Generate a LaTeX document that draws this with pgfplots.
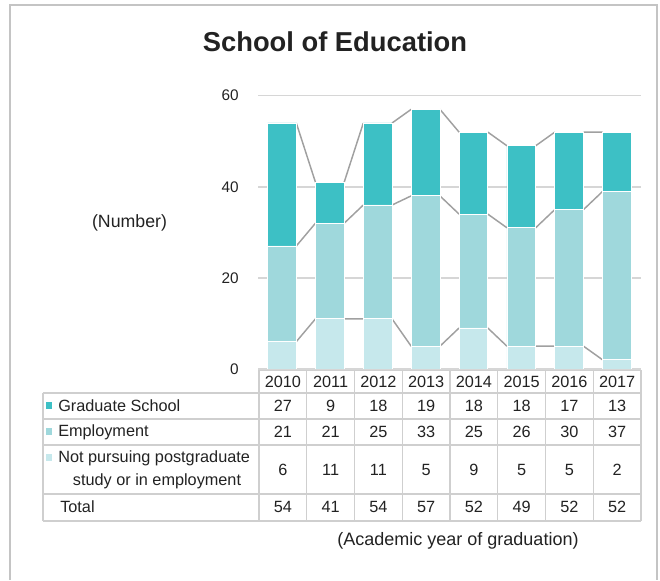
\documentclass[border=0pt]{standalone}
\usepackage{pgfplots}
\pgfplotsset{compat=1.18}
\usepackage{pgfplotstable}
\usepackage{fontspec}
\setmainfont{Liberation Sans}

\definecolor{gradcol}{HTML}{3DC0C5}
\definecolor{empcol}{HTML}{9FD8DC}
\definecolor{notcol}{HTML}{C6E8EC}
\definecolor{gridcol}{HTML}{D6D6D6}
\definecolor{sercol}{HTML}{A0A0A0}
\definecolor{tabcol}{HTML}{CFCFCF}
\definecolor{framecol}{HTML}{C4C4C4}
\definecolor{txt}{HTML}{222222}

% stacked counts per year (0 = 2010 ... 7 = 2017)
\pgfplotstableread{
x n e g
0 6 21 27
1 11 21 9
2 11 25 18
3 5 33 19
4 9 25 18
5 5 26 18
6 5 30 17
7 2 37 13
}\datatable

% series lines: cumulative tops, from the right edge of one bar to the left edge of the next
\pgfplotstableread{
x l1 l2 l3
0.3 6 27 54
0.7 11 32 41
nan nan nan nan
1.3 11 32 41
1.7 11 36 54
nan nan nan nan
2.3 11 36 54
2.7 5 38 57
nan nan nan nan
3.3 5 38 57
3.7 9 34 52
nan nan nan nan
4.3 9 34 52
4.7 5 31 49
nan nan nan nan
5.3 5 31 49
5.7 5 35 52
nan nan nan nan
6.3 5 35 52
6.7 2 39 52
}\linetable

\newcommand\tabfont{\fontsize{12.2}{14}\selectfont}

\begin{document}
\begin{tikzpicture}[px/.style={xshift=-193.5pt, yshift=276.75pt, x=0.75pt, y=-0.75pt}]
\begin{scope}[px]
\useasboundingbox (0,0) rectangle (660,570);
\end{scope}

\pgfplotsset{base/.style={
    at={(0,0)}, anchor=south west,
    scale only axis,
    width=287.25pt, height=205pt,
    xmin=-0.5, xmax=7.5,
    ymin=0, ymax=60,
    axis line style={draw=none},
    xtick=\empty,
    major tick length=0pt,
}}

% grid, y ticks and series lines (behind the bars)
\begin{axis}[base,
    ytick={0,20,40,60},
    ymajorgrids,
    major grid style={color=gridcol, line width=1.1pt},
    /pgf/number format/assume math mode=true,
    yticklabel style={font=\fontsize{11.5}{13}\selectfont, text=txt, xshift=-11pt},
    unbounded coords=jump,
]
\addplot[sercol, line width=1.1pt] table[x=x, y=l1] {\linetable};
\addplot[sercol, line width=1.1pt] table[x=x, y=l2] {\linetable};
\addplot[sercol, line width=1.1pt] table[x=x, y=l3] {\linetable};
\end{axis}

% stacked bars
\begin{axis}[base,
    ytick=\empty,
    ybar stacked,
    bar width=0.6,
]
\addplot[fill=notcol, draw=white, line width=0.6pt] table[x=x, y=n] {\datatable};
\addplot[fill=empcol, draw=white, line width=0.6pt] table[x=x, y=e] {\datatable};
\addplot[fill=gradcol, draw=white, line width=0.6pt] table[x=x, y=g] {\datatable};
\end{axis}

\begin{scope}[px]
% outer frame
\draw[framecol, line width=1.3pt] (10,580) -- (10,5) -- (657,5) -- (657,580);

% title and labels
\node[text=txt, font=\fontsize{20.5}{24}\selectfont\bfseries] at (335,42) {School of Education};
\node[text=txt, font=\fontsize{13.3}{15}\selectfont] at (129.5,223) {(Number)};
\node[text=txt, font=\fontsize{13.5}{15}\selectfont] at (458,541) {(Academic year of graduation)};

% data table grid
\draw[tabcol, line width=1.1pt] (259,370.5) -- (641,370.5);
\foreach \yy in {393,419,445,494,521}
  \draw[tabcol, line width=1.1pt] (43,\yy) -- (641,\yy);
\draw[tabcol, line width=1.1pt] (43,393) -- (43,521);
\foreach \k in {0,...,8}
  \draw[tabcol, line width=1.1pt] ({259+47.75*\k},370.5) -- ({259+47.75*\k},521);

% header: years
\foreach \v [count=\k from 0] in {2010,2011,2012,2013,2014,2015,2016,2017}
  \node[text=txt, font=\tabfont] at ({259+47.75*(\k+0.5)},382) {\v};

% row labels with legend keys
\fill[gradcol] (46.5,402.5) rectangle (52.5,409.5);
\node[text=txt, font=\tabfont, anchor=west, inner sep=0pt] at (58,406) {Graduate School};
\fill[empcol] (46.5,428.5) rectangle (52.5,435.5);
\node[text=txt, font=\tabfont, anchor=west, inner sep=0pt] at (58,432) {Employment};
\fill[notcol] (46.5,454.5) rectangle (52.5,461.5);
\node[text=txt, font=\tabfont, anchor=west, inner sep=0pt] at (58,458) {Not pursuing postgraduate};
\node[text=txt, font=\tabfont] at (157,481) {study or in employment};
\node[text=txt, font=\tabfont, anchor=west, inner sep=0pt] at (60,507) {Total};

% row values
\foreach \v [count=\k from 0] in {27,9,18,19,18,18,17,13}
  \node[text=txt, font=\tabfont] at ({259+47.75*(\k+0.5)},406) {\v};
\foreach \v [count=\k from 0] in {21,21,25,33,25,26,30,37}
  \node[text=txt, font=\tabfont] at ({259+47.75*(\k+0.5)},432) {\v};
\foreach \v [count=\k from 0] in {6,11,11,5,9,5,5,2}
  \node[text=txt, font=\tabfont] at ({259+47.75*(\k+0.5)},469.5) {\v};
\foreach \v [count=\k from 0] in {54,41,54,57,52,49,52,52}
  \node[text=txt, font=\tabfont] at ({259+47.75*(\k+0.5)},507) {\v};
\end{scope}
\end{tikzpicture}
\end{document}
